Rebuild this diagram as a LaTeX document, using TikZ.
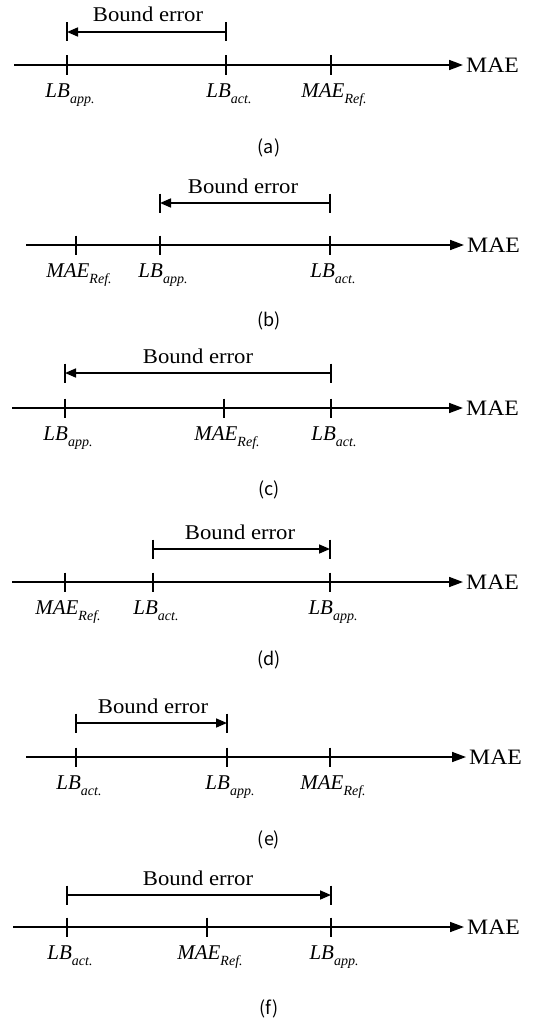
\documentclass[tikz,border=0pt]{standalone}
\usepackage{fontspec}
\setmainfont{Liberation Serif}
\newfontfamily\upfont[FakeStretch=1.08]{Liberation Serif}
\newfontfamily\capfont{Noto Sans CJK KR}
\usetikzlibrary{arrows.meta}
\newcommand{\lsub}[2]{\textit{#1}\raisebox{-6pt}{\fontsize{14}{14}\selectfont\textit{#2}}}
\newcommand{\tk}[1]{\draw[tickmark] ([yshift=9.5pt]#1) -- ([yshift=-9.5pt]#1);}
\begin{document}
\begin{tikzpicture}[x=1pt,y=-1pt,
  axisline/.style={line width=1.6pt,-{Triangle[length=14pt,width=10pt]}},
  barline/.style={line width=1.6pt},
  tipL/.style={{Triangle[length=11pt,width=9pt]}-},
  tipR/.style={-{Triangle[length=11pt,width=9pt]}},
  tickmark/.style={line width=1.6pt},
  lbl/.style={font=\fontsize{21}{22}\selectfont, anchor=base, inner sep=0pt, xshift=3pt},
  maelbl/.style={font=\upfont\fontsize{22}{22}\selectfont, anchor=west, inner sep=0pt, xshift=3pt},
  btext/.style={font=\upfont\fontsize{21}{22}\selectfont, anchor=base, inner sep=0pt},
  capt/.style={font=\capfont\fontsize{18}{20}\selectfont, inner sep=0pt}]
\fill[white] (0,0) rectangle (535,1025);
\useasboundingbox (0,0) rectangle (535,1025);

% ---------- (a)
\coordinate (a0) at (14,65); \coordinate (aE) at (463,65);
\draw[axisline] (a0) -- (aE);
\node[maelbl] (aM) at (aE) {MAE};
\coordinate (a1) at (67,65); \coordinate (a2) at (226,65); \coordinate (a3) at (331,65);
\tk{a1} \tk{a2} \tk{a3}
\node[lbl] (a1l) at ([yshift=-32pt]a1) {\lsub{LB}{app.}};
\node[lbl] (a2l) at ([yshift=-32pt]a2) {\lsub{LB}{act.}};
\node[lbl] (a3l) at ([yshift=-32pt]a3) {\lsub{MAE}{Ref.}};
\coordinate (aL) at (67,32); \coordinate (aR) at (226,32);
\tk{aL} \tk{aR}
\draw[barline,tipL] (aL) -- (aR);
\node[btext] (aB) at (148,22) {Bound error};
\node[capt] (aC) at (269,148) {(a)};

% ---------- (b)
\coordinate (b0) at (26,245); \coordinate (bE) at (464,245);
\draw[axisline] (b0) -- (bE);
\node[maelbl] (bM) at (bE) {MAE};
\coordinate (b1) at (76,245); \coordinate (b2) at (160,245); \coordinate (b3) at (330,245);
\tk{b1} \tk{b2} \tk{b3}
\node[lbl] (b1l) at ([yshift=-32pt]b1) {\lsub{MAE}{Ref.}};
\node[lbl] (b2l) at ([yshift=-32pt]b2) {\lsub{LB}{app.}};
\node[lbl] (b3l) at ([yshift=-32pt]b3) {\lsub{LB}{act.}};
\coordinate (bL) at (160,203); \coordinate (bR) at (330,203);
\tk{bL} \tk{bR}
\draw[barline,tipL] (bL) -- (bR);
\node[btext] (bB) at (243,193) {Bound error};
\node[capt] (bC) at (269,321) {(b)};

% ---------- (c)
\coordinate (c0) at (12,408); \coordinate (cE) at (463,408);
\draw[axisline] (c0) -- (cE);
\node[maelbl] (cM) at (cE) {MAE};
\coordinate (c1) at (65,408); \coordinate (c2) at (224,408); \coordinate (c3) at (331,408);
\tk{c1} \tk{c2} \tk{c3}
\node[lbl] (c1l) at ([yshift=-32pt]c1) {\lsub{LB}{app.}};
\node[lbl] (c2l) at ([yshift=-32pt]c2) {\lsub{MAE}{Ref.}};
\node[lbl] (c3l) at ([yshift=-32pt]c3) {\lsub{LB}{act.}};
\coordinate (cL) at (65,373); \coordinate (cR) at (331,373);
\tk{cL} \tk{cR}
\draw[barline,tipL] (cL) -- (cR);
\node[btext] (cB) at (198,363) {Bound error};
\node[capt] (cC) at (269,490) {(c)};

% ---------- (d)
\coordinate (d0) at (12,582); \coordinate (dE) at (463,582);
\draw[axisline] (d0) -- (dE);
\node[maelbl] (dM) at (dE) {MAE};
\coordinate (d1) at (65,582); \coordinate (d2) at (153,582); \coordinate (d3) at (330,582);
\tk{d1} \tk{d2} \tk{d3}
\node[lbl] (d1l) at ([yshift=-32pt]d1) {\lsub{MAE}{Ref.}};
\node[lbl] (d2l) at ([yshift=-32pt]d2) {\lsub{LB}{act.}};
\node[lbl] (d3l) at ([yshift=-32pt]d3) {\lsub{LB}{app.}};
\coordinate (dL) at (153,549); \coordinate (dR) at (330,549);
\tk{dL} \tk{dR}
\draw[barline,tipR] (dL) -- (dR);
\node[btext] (dB) at (240,539) {Bound error};
\node[capt] (dC) at (269,660) {(d)};

% ---------- (e)
\coordinate (e0) at (26,757); \coordinate (eE) at (466,757);
\draw[axisline] (e0) -- (eE);
\node[maelbl] (eM) at (eE) {MAE};
\coordinate (e1) at (76,757); \coordinate (e2) at (227,757); \coordinate (e3) at (330,757);
\tk{e1} \tk{e2} \tk{e3}
\node[lbl] (e1l) at ([yshift=-32pt]e1) {\lsub{LB}{act.}};
\node[lbl] (e2l) at ([yshift=-32pt]e2) {\lsub{LB}{app.}};
\node[lbl] (e3l) at ([yshift=-32pt]e3) {\lsub{MAE}{Ref.}};
\coordinate (eL) at (76,723); \coordinate (eR) at (227,723);
\tk{eL} \tk{eR}
\draw[barline,tipR] (eL) -- (eR);
\node[btext] (eB) at (153,713) {Bound error};
\node[capt] (eC) at (269,840) {(e)};

% ---------- (f)
\coordinate (f0) at (13,927); \coordinate (fE) at (464,927);
\draw[axisline] (f0) -- (fE);
\node[maelbl] (fM) at (fE) {MAE};
\coordinate (f1) at (67,927); \coordinate (f2) at (207,927); \coordinate (f3) at (331,927);
\tk{f1} \tk{f2} \tk{f3}
\node[lbl] (f1l) at ([yshift=-32pt]f1) {\lsub{LB}{act.}};
\node[lbl] (f2l) at ([yshift=-32pt]f2) {\lsub{MAE}{Ref.}};
\node[lbl] (f3l) at ([yshift=-32pt]f3) {\lsub{LB}{app.}};
\coordinate (fL) at (67,895); \coordinate (fR) at (331,895);
\tk{fL} \tk{fR}
\draw[barline,tipR] (fL) -- (fR);
\node[btext] (fB) at (198,885) {Bound error};
\node[capt] (fC) at (269,1009) {(f)};
\end{tikzpicture}
\end{document}
